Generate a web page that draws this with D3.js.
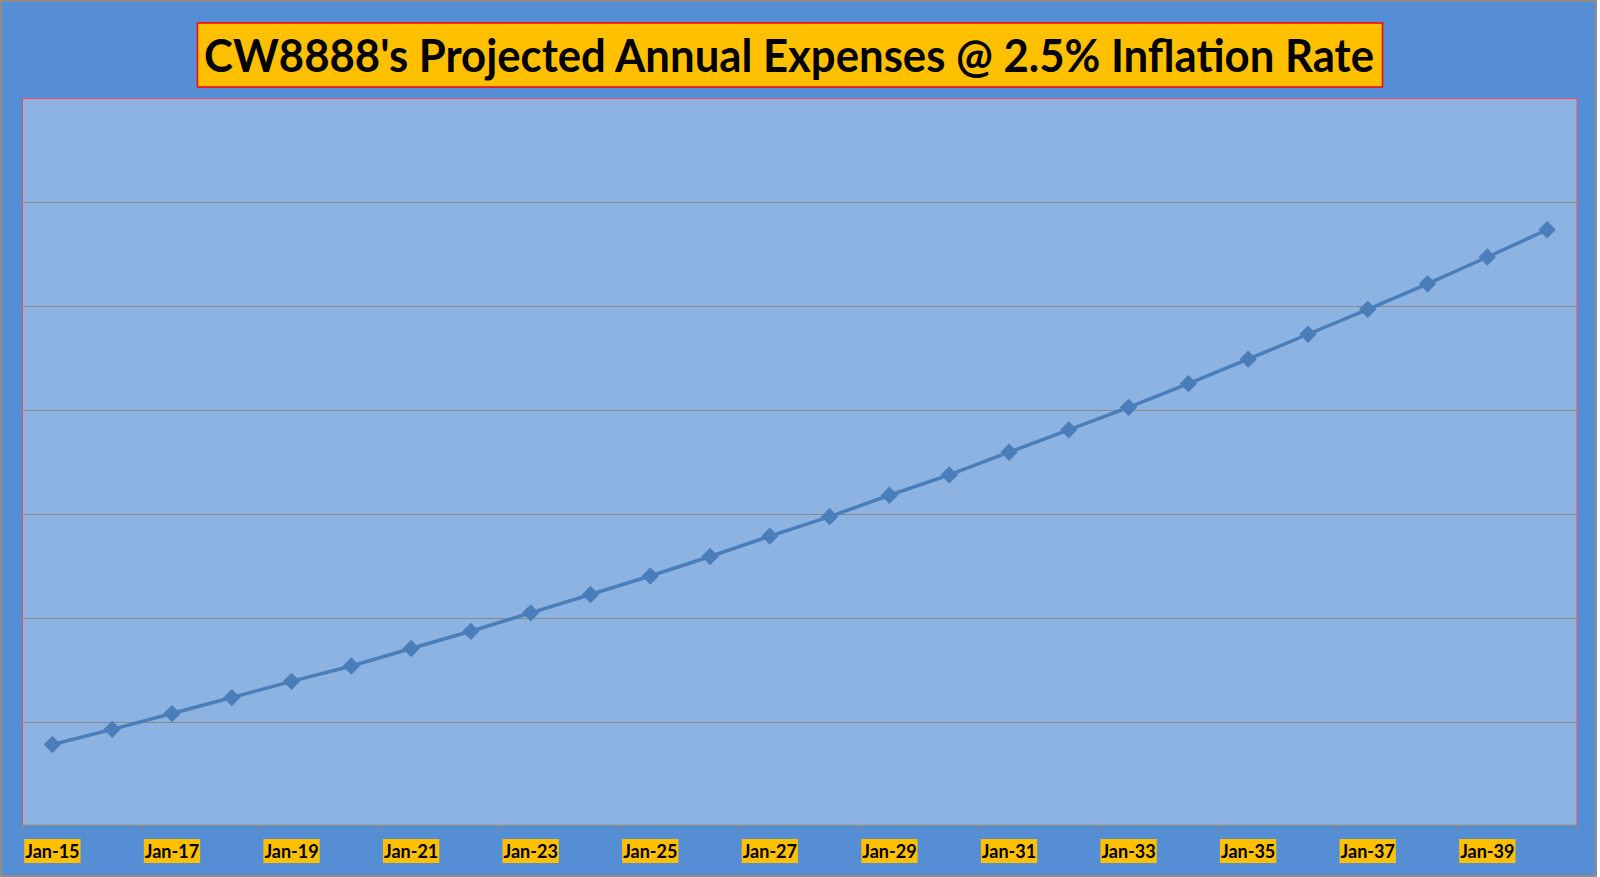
<!DOCTYPE html>
<html>
<head>
<meta charset="utf-8">
<script src="https://cdn.jsdelivr.net/npm/d3@7"></script>
<style>
  body { margin: 0; background: #fff; }
  svg { display: block; }
</style>
</head>
<body>
<svg id="chart" width="1600" height="877"></svg>
<script>
const months = ['Jan-15', 'Jan-16', 'Jan-17', 'Jan-18', 'Jan-19', 'Jan-20', 'Jan-21', 'Jan-22', 'Jan-23',
  'Jan-24', 'Jan-25', 'Jan-26', 'Jan-27', 'Jan-28', 'Jan-29', 'Jan-30', 'Jan-31', 'Jan-32', 'Jan-33',
  'Jan-34', 'Jan-35', 'Jan-36', 'Jan-37', 'Jan-38', 'Jan-39', 'Jan-40']

const expenses = [28900, 29630, 30390, 31160, 31940, 32680, 33520, 34350, 35240, 36120, 37010, 37950,
  38930, 39870, 40900, 41880, 42970, 44050, 45130, 46270, 47450, 48650, 49850, 51080, 52370, 53680]

const yTicks = [25000, 30000, 35000, 40000, 45000, 50000, 55000, 60000]

const titleText = "CW8888's Projected Annual Expenses @ 2.5% Inflation Rate"

const W = 1600
const H = 877
const plot = { left: 22.5, top: 98.5, right: 1577, bottom: 825.5 }

const svg = d3.select('#chart')

// chart area
svg.append('rect')
  .attr('x', 1).attr('y', 1)
  .attr('width', W - 5).attr('height', H - 2)
  .attr('fill', '#558ed5')
  .attr('stroke', '#8c8c8c')
  .attr('stroke-width', 2)

// title
const titleG = svg.append('g')
titleG.append('rect')
  .attr('x', 197.5).attr('y', 23)
  .attr('width', 1185).attr('height', 64)
  .attr('fill', '#ffc000')
  .attr('stroke', '#ff0000')
  .attr('stroke-width', 1.5)
titleG.append('text')
  .attr('x', 204).attr('y', 72)
  .attr('font-family', 'Lato, "Open Sans", sans-serif')
  .attr('font-weight', 'bold')
  .attr('font-size', 45)
  .attr('textLength', 1170)
  .attr('lengthAdjust', 'spacingAndGlyphs')
  .attr('fill', '#000')
  .text(titleText)

const x = d3.scaleBand()
  .domain(months)
  .range([plot.left, plot.right])

const y = d3.scaleLinear()
  .domain([25000, 60000])
  .range([plot.bottom, plot.top])

// plot area
svg.append('rect')
  .attr('x', plot.left).attr('y', plot.top)
  .attr('width', plot.right - plot.left).attr('height', plot.bottom - plot.top)
  .attr('fill', '#8db3e2')
  .attr('stroke', '#f0505a')
  .attr('stroke-width', 1)

// gridlines
svg.append('g')
  .selectAll('line')
  .data(yTicks.slice(1, -1))
  .join('line')
  .attr('x1', plot.left).attr('x2', plot.right)
  .attr('y1', d => Math.round(y(d)) + 0.5)
  .attr('y2', d => Math.round(y(d)) + 0.5)
  .attr('stroke', '#8a8a82')
  .attr('stroke-width', 1)

// x axis line and ticks
const xAxis = svg.append('g')
xAxis.append('line')
  .attr('x1', plot.left).attr('x2', plot.right)
  .attr('y1', plot.bottom).attr('y2', plot.bottom)
  .attr('stroke', '#8a8a8a')
  .attr('stroke-width', 1.5)

const tickCats = months.filter((d, i) => i % 2 === 0)
xAxis.selectAll('.tick')
  .data(tickCats.concat(['end']))
  .join('line')
  .attr('class', 'tick')
  .attr('x1', d => d === 'end' ? plot.right : x(d))
  .attr('x2', d => d === 'end' ? plot.right : x(d))
  .attr('y1', plot.bottom)
  .attr('y2', plot.bottom + 6)
  .attr('stroke', '#8a8a8a')
  .attr('stroke-width', 1)

// x labels with yellow highlight
const labels = xAxis.selectAll('.lbl')
  .data(tickCats)
  .join('g')
  .attr('class', 'lbl')
  .attr('transform', d => `translate(${x(d) + x.bandwidth() / 2},0)`)

labels.append('rect')
  .attr('fill', '#ffc000')
labels.append('text')
  .attr('y', 857.5)
  .attr('text-anchor', 'middle')
  .attr('font-family', 'Lato, "Open Sans", sans-serif')
  .attr('font-weight', 'bold')
  .attr('font-size', 18)
  .attr('fill', '#000')
  .text(d => d)
labels.each(function () {
  const g = d3.select(this)
  const b = g.select('text').node().getBBox()
  g.select('rect')
    .attr('x', b.x - 1)
    .attr('y', 839)
    .attr('width', b.width + 2)
    .attr('height', 24)
})

// series
const line = d3.line()
  .x((d, i) => x(months[i]) + x.bandwidth() / 2)
  .y(d => y(d))

svg.append('path')
  .datum(expenses)
  .attr('d', line)
  .attr('fill', 'none')
  .attr('stroke', '#4a7ebb')
  .attr('stroke-width', 3.5)

const marker = d3.symbol().type(d3.symbolSquare).size(150)
svg.append('g')
  .selectAll('path')
  .data(expenses)
  .join('path')
  .attr('d', marker)
  .attr('transform', (d, i) => `translate(${x(months[i]) + x.bandwidth() / 2},${y(d)}) rotate(45)`)
  .attr('fill', '#4a7ebb')
</script>
</body>
</html>
